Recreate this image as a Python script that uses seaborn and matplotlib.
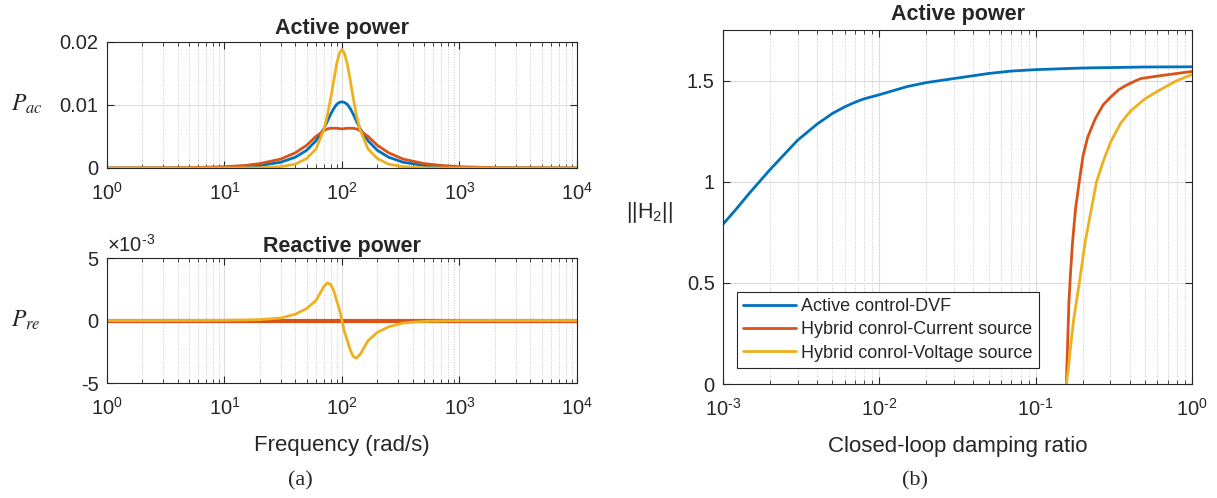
import numpy as np
import pandas as pd
import matplotlib
matplotlib.use("Agg")
import matplotlib.pyplot as plt
import matplotlib.ticker as mtick
import seaborn as sns

# (a) frequency response
freq = [1, 3, 5, 10, 15, 20, 30, 40, 50, 60, 70, 75, 80, 85, 90, 95, 100, 105,
        111, 118, 125, 133, 143, 167, 200, 250, 333, 500, 700, 1000, 2000, 10000]
pac_dvf = [0, 0.00001, 0.00002, 0.0001, 0.00025, 0.0004, 0.0009, 0.0017, 0.0028,
           0.0043, 0.0062, 0.0074, 0.0085, 0.0094, 0.0101, 0.0104, 0.0105, 0.0104,
           0.0101, 0.0094, 0.0085, 0.0074, 0.0062, 0.0043, 0.0028, 0.0017, 0.0009,
           0.0004, 0.0002, 0.0001, 0.00002, 0]
pac_cur = [0, 0.00002, 0.00005, 0.0002, 0.0004, 0.0007, 0.0014, 0.0024, 0.0036,
           0.0050, 0.0059, 0.0062, 0.0063, 0.0063, 0.0063, 0.00625, 0.0062, 0.00625,
           0.0063, 0.0063, 0.0063, 0.0062, 0.0059, 0.0050, 0.0036, 0.0024, 0.0014,
           0.0007, 0.0004, 0.0002, 0.00005, 0]
pac_vol = [0, 0, 0, 0, 0.00001, 0.00003, 0.0002, 0.0006, 0.0015, 0.0030, 0.0060,
           0.0083, 0.0110, 0.0138, 0.0165, 0.0182, 0.0188, 0.0182, 0.0165, 0.0138,
           0.0110, 0.0083, 0.0060, 0.0030, 0.0015, 0.0006, 0.0002, 0.00003, 0, 0, 0, 0]
# reactive power, in units of 1e-3
pre_vol_e3 = [0, 0, 0.005, 0.02, 0.04, 0.07, 0.2, 0.5, 0.95, 1.6, 2.7, 3.0, 2.9,
              2.4, 1.6, 0.9, 0.0, -0.9, -1.6, -2.4, -2.9, -3.0, -2.7, -1.6, -0.95,
              -0.5, -0.2, -0.07, -0.03, -0.01, 0, 0]
pre_flat = [0] * len(freq)

# (b) H2 norm vs damping ratio
zeta_dvf = [0.001, 0.0012, 0.0015, 0.002, 0.0025, 0.003, 0.004, 0.005, 0.006,
            0.007, 0.008, 0.01, 0.015, 0.02, 0.03, 0.05, 0.07, 0.1, 0.2, 0.5, 1.0]
h2_dvf = [0.79, 0.86, 0.95, 1.06, 1.14, 1.205, 1.285, 1.337, 1.37, 1.393, 1.41,
          1.43, 1.47, 1.49, 1.51, 1.535, 1.547, 1.554, 1.562, 1.567, 1.568]
zeta_cur = [0.157, 0.16, 0.163, 0.167, 0.172, 0.18, 0.19, 0.201, 0.215, 0.24,
            0.27, 0.303, 0.34, 0.38, 0.43, 0.47, 0.6, 0.8, 1.0]
h2_cur = [0, 0.2, 0.4, 0.55, 0.7, 0.87, 1.0, 1.13, 1.22, 1.31, 1.38, 1.42, 1.455,
          1.477, 1.497, 1.51, 1.522, 1.535, 1.545]
zeta_vol = [0.157, 0.162, 0.168, 0.175, 0.19, 0.207, 0.225, 0.245, 0.27, 0.303,
            0.35, 0.405, 0.5, 0.61, 0.8, 1.0]
h2_vol = [0, 0.08, 0.2, 0.32, 0.5, 0.7, 0.85, 1.0, 1.1, 1.2, 1.29, 1.35, 1.41,
          1.45, 1.5, 1.53]

labels = ["Active control-DVF", "Hybrid conrol-Current source",
          "Hybrid conrol-Voltage source"]
colors = ["#0072BD", "#D95319", "#EDB120"]

sns.set_style("ticks")
plt.rcParams["font.family"] = ["Liberation Sans", "DejaVu Sans"]
plt.rcParams["mathtext.fontset"] = "custom"
plt.rcParams["mathtext.rm"] = "Liberation Sans"
plt.rcParams["mathtext.it"] = "Liberation Sans:italic"
plt.rcParams["axes.unicode_minus"] = False

fig = plt.figure(figsize=(12.17, 4.98), dpi=100)
ax1 = fig.add_axes([0.0879, 0.6627, 0.3862, 0.2530])
ax2 = fig.add_axes([0.0879, 0.2309, 0.3862, 0.2510])
ax3 = fig.add_axes([0.5941, 0.2289, 0.3854, 0.7109])

dfa = pd.DataFrame({"f": freq, "dvf": pac_dvf, "cur": pac_cur, "vol": pac_vol,
                    "q0": pre_flat, "qv": np.array(pre_vol_e3) * 1e-3})

lw = 2.0
sns.lineplot(data=dfa, x="f", y="dvf", ax=ax1, color=colors[0], lw=lw)
sns.lineplot(data=dfa, x="f", y="cur", ax=ax1, color=colors[1], lw=lw)
sns.lineplot(data=dfa, x="f", y="vol", ax=ax1, color=colors[2], lw=lw)

sns.lineplot(data=dfa, x="f", y="q0", ax=ax2, color=colors[0], lw=lw)
sns.lineplot(data=dfa, x="f", y="q0", ax=ax2, color=colors[1], lw=lw + 1)
sns.lineplot(data=dfa, x="f", y="qv", ax=ax2, color=colors[2], lw=lw)

sns.lineplot(x=zeta_dvf, y=h2_dvf, ax=ax3, color=colors[0], lw=lw, label=labels[0])
sns.lineplot(x=zeta_cur, y=h2_cur, ax=ax3, color=colors[1], lw=lw, label=labels[1])
sns.lineplot(x=zeta_vol, y=h2_vol, ax=ax3, color=colors[2], lw=lw, label=labels[2])


def pow10(v, pos):
    e = int(round(np.log10(v)))
    s = r"\text{-}%d" % -e if e < 0 else "%d" % e
    return r"$10^{%s}$" % s


edge = "#262626"
tsize = 14.5
for ax in (ax1, ax2, ax3):
    ax.set_xscale("log")
    ax.grid(True, which="major", color="#dcdcdc", lw=0.8, ls="-")
    ax.grid(True, which="minor", axis="x", color="#c8c8c8", lw=0.7, ls=":")
    ax.tick_params(which="both", direction="in", top=True, right=True,
                   colors=edge, labelsize=tsize, labelcolor="#262626")
    ax.tick_params(which="major", length=5)
    ax.tick_params(which="minor", length=3)
    ax.tick_params(axis="x", pad=10)
    ax.tick_params(axis="y", pad=6)
    for s in ax.spines.values():
        s.set_color(edge)
        s.set_linewidth(0.8)
    ax.set_xlabel("")
    ax.set_ylabel("")
    ax.set_axisbelow(True)
    ax.xaxis.set_major_locator(mtick.LogLocator(base=10, numticks=10))
    ax.xaxis.set_major_formatter(mtick.FuncFormatter(pow10))
    ax.xaxis.set_minor_locator(mtick.LogLocator(base=10, subs=np.arange(2, 10), numticks=20))
    ax.xaxis.set_minor_formatter(mtick.NullFormatter())

for ax in (ax1, ax2):
    ax.set_xlim(1, 1e4)

ax1.set_ylim(0, 0.02)
ax1.set_yticks([0, 0.01, 0.02])
ax1.set_yticklabels(["0", "0.01", "0.02"])
ax1.set_title("Active power", fontsize=15.5, fontweight="bold", pad=6)

ax2.set_ylim(-5e-3, 5e-3)
ax2.set_yticks([-5e-3, 0, 5e-3])
ax2.set_yticklabels(["-5", "0", "5"])
ax2.text(0.0, 1.015, r"$\times 10^{\text{-}3}$", transform=ax2.transAxes,
         fontsize=tsize, ha="left", va="bottom", color="#262626")
ax2.set_title("Reactive power", fontsize=15.5, fontweight="bold", pad=4)
ax2.set_xlabel("Frequency (rad/s)", fontsize=16, color="#262626", labelpad=12)

ax3.set_xlim(1e-3, 1)
ax3.set_ylim(0, 1.75)
ax3.set_yticks([0, 0.5, 1, 1.5])
ax3.set_yticklabels(["0", "0.5", "1", "1.5"])
ax3.set_title("Active power", fontsize=15.5, fontweight="bold", pad=7)
ax3.set_xlabel("Closed-loop damping ratio", fontsize=16, color="#262626", labelpad=12)
leg = ax3.legend(loc="lower left", bbox_to_anchor=(0.03, 0.045), fontsize=13,
                 frameon=True, fancybox=False, framealpha=1, borderpad=0.35,
                 handlelength=2.9, handletextpad=0.3, labelspacing=0.35,
                 borderaxespad=0)
leg.get_frame().set_edgecolor(edge)
leg.get_frame().set_linewidth(0.8)

serif = ["Liberation Serif", "DejaVu Serif"]
fig.text(0.009, 0.79, r"$P_{ac}$", fontsize=17, ha="left", va="center",
         math_fontfamily="stix")
fig.text(0.009, 0.357, r"$P_{re}$", fontsize=17, ha="left", va="center",
         math_fontfamily="stix")
fig.text(0.534, 0.574, r"||H$_2$||", fontsize=15.5, ha="center", va="center",
         color="#262626")
fig.text(0.247, 0.035, "(a)", fontsize=16, family=serif, ha="center", va="center")
fig.text(0.752, 0.035, "(b)", fontsize=16, family=serif, ha="center", va="center")

fig.savefig("out.png", dpi=100)
